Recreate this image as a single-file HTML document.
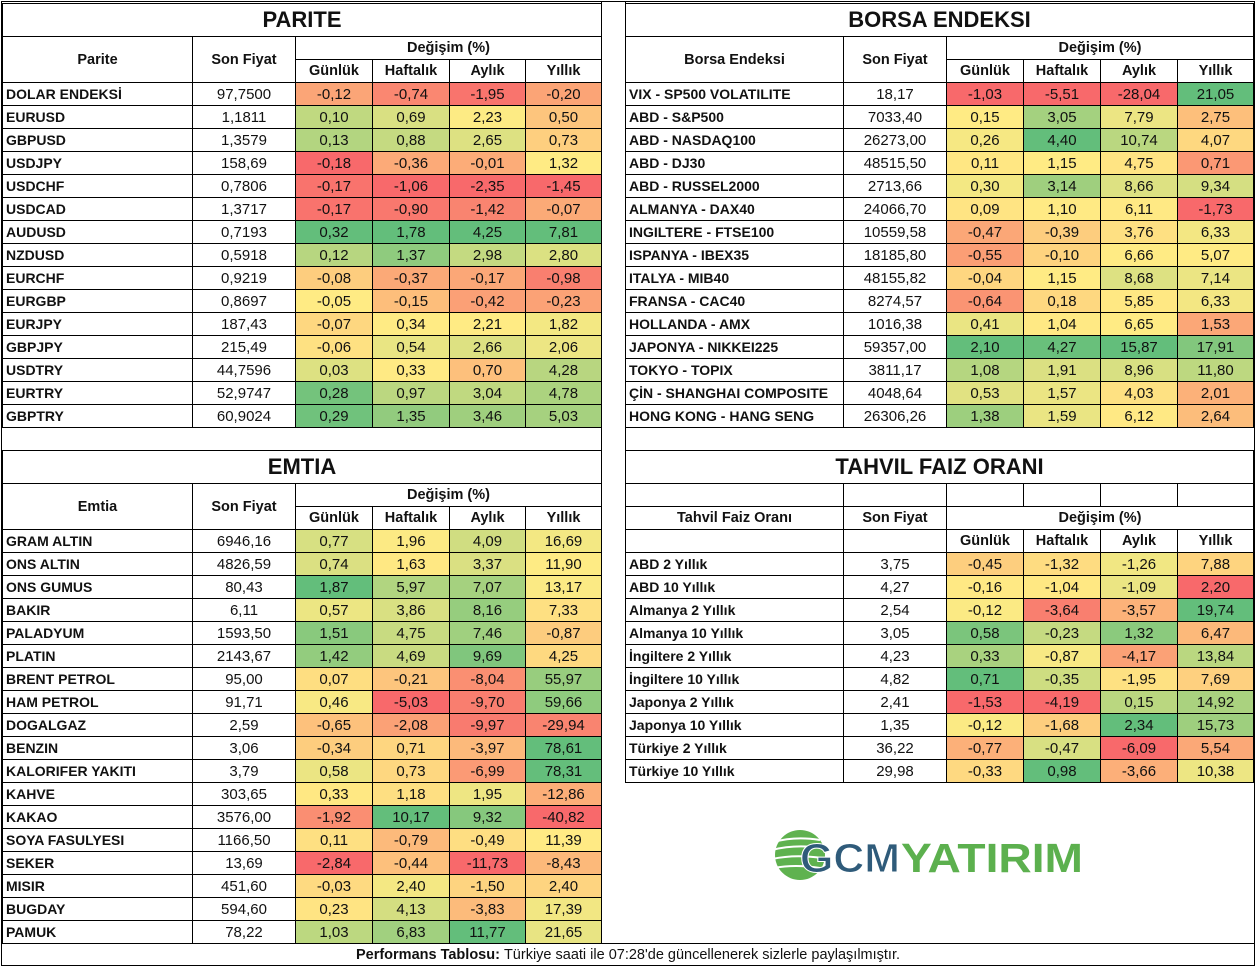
<!DOCTYPE html>
<html><head><meta charset="utf-8">
<style>
html,body{margin:0;padding:0;background:#fff;}
body{width:1256px;height:967px;position:relative;overflow:hidden;font-family:"Liberation Sans",Arial,sans-serif;}
.c{position:absolute;box-sizing:border-box;border:1px solid #000;margin:0;white-space:nowrap;overflow:hidden;font-size:15px;color:#111;display:flex;align-items:center;justify-content:center;}
.n{justify-content:flex-start;padding-left:3px;font-weight:bold;font-size:14px;}
.h{font-weight:bold;font-size:14.5px;}
.t{font-weight:bold;font-size:22px;}
.l{position:absolute;background:#000;}
</style></head><body>
<div id="root"></div>
<div class="l" style="left:1px;top:1px;width:1254px;height:1px"></div>
<div class="l" style="left:1px;top:965px;width:1254px;height:1px"></div>
<div class="l" style="left:1px;top:1px;width:1px;height:965px"></div>
<div class="l" style="left:1254px;top:1px;width:1px;height:965px"></div>
<div class="l" style="left:601px;top:1px;width:1px;height:943px"></div>
<div class="l" style="left:625px;top:1px;width:1px;height:782px"></div>

<svg style="position:absolute;left:770px;top:828px" width="320" height="60" viewBox="0 0 320 60">
  <circle cx="30" cy="27" r="25" fill="#5FB24F"/>
  <path d="M4 14 Q25 8 50 12 M2 22 Q25 16 52 20 M2 31 Q25 26 52 30 M4 40 Q25 36 50 40" stroke="#fff" stroke-width="2" fill="none"/>
  <text x="30" y="44" font-family="Liberation Sans,Arial,sans-serif" font-weight="bold" font-size="41" fill="#2F5B7A" stroke="#fff" stroke-width="1" textLength="100" lengthAdjust="spacingAndGlyphs">GCM</text>
  <text x="131" y="44" font-family="Liberation Sans,Arial,sans-serif" font-weight="bold" font-size="41" fill="#5CB04E" textLength="182" lengthAdjust="spacingAndGlyphs">YATIRIM</text>
</svg>

<script>
var R=document.getElementById('root');
function cell(x,y,w,h,txt,cls,bg){var d=document.createElement('div');d.className='c '+(cls||'');d.style.left=x+'px';d.style.top=y+'px';d.style.width=(w+1)+'px';d.style.height=(h+1)+'px';if(bg)d.style.background=bg;d.textContent=txt||'';R.appendChild(d);}
function lerp(a,b,t){return [0,1,2].map(function(i){return Math.round(a[i]+(b[i]-a[i])*t);});}
var RED=[248,105,107],YEL=[255,235,132],GRN=[99,190,123];
function colors(vals){var s=vals.slice().sort(function(a,b){return a-b;});var n=s.length;var p=(n-1)*0.5;var lo=Math.floor(p),hi=Math.ceil(p);var med=s[lo]+(s[hi]-s[lo])*(p-lo);var mn=s[0],mx=s[n-1];
return vals.map(function(v){var c;if(v<=med){c=lerp(RED,YEL,med===mn?1:(v-mn)/(med-mn));}else{c=lerp(YEL,GRN,mx===med?1:(v-med)/(mx-med));}return 'rgb('+c.join(',')+')';});}
function num(s){return parseFloat(s.replace(',','.'));}
function table(cols,y0,rows){var cc=[[],[],[],[]];rows.forEach(function(r){for(var k=0;k<4;k++)cc[k].push(num(r[k+2]));});var cl=cc.map(colors);
rows.forEach(function(r,i){var y=y0+i*23;cell(cols[0],y,cols[1]-cols[0],23,r[0],'n');cell(cols[1],y,cols[2]-cols[1],23,r[1]);for(var k=0;k<4;k++)cell(cols[k+2],y,cols[k+3]-cols[k+2],23,r[k+2],'',cl[k][i]);});}
function header(cols,y,title,name){cell(cols[0],y,cols[6]-cols[0],33,title,'t');cell(cols[0],y+33,cols[1]-cols[0],46,name,'h');cell(cols[1],y+33,cols[2]-cols[1],46,'Son Fiyat','h');cell(cols[2],y+33,cols[6]-cols[2],23,'Değişim (%)','h');var s=['Günlük','Haftalık','Aylık','Yıllık'];for(var k=0;k<4;k++)cell(cols[k+2],y+56,cols[k+3]-cols[k+2],23,s[k],'h');}
var L=[2,192,295,372,449,525,601],RC=[625,843,946,1023,1100,1177,1253];
header(L,3,'PARITE','Parite');
table(L,82,[
['DOLAR ENDEKSİ','97,7500','-0,12','-0,74','-1,95','-0,20'],
['EURUSD','1,1811','0,10','0,69','2,23','0,50'],
['GBPUSD','1,3579','0,13','0,88','2,65','0,73'],
['USDJPY','158,69','-0,18','-0,36','-0,01','1,32'],
['USDCHF','0,7806','-0,17','-1,06','-2,35','-1,45'],
['USDCAD','1,3717','-0,17','-0,90','-1,42','-0,07'],
['AUDUSD','0,7193','0,32','1,78','4,25','7,81'],
['NZDUSD','0,5918','0,12','1,37','2,98','2,80'],
['EURCHF','0,9219','-0,08','-0,37','-0,17','-0,98'],
['EURGBP','0,8697','-0,05','-0,15','-0,42','-0,23'],
['EURJPY','187,43','-0,07','0,34','2,21','1,82'],
['GBPJPY','215,49','-0,06','0,54','2,66','2,06'],
['USDTRY','44,7596','0,03','0,33','0,70','4,28'],
['EURTRY','52,9747','0,28','0,97','3,04','4,78'],
['GBPTRY','60,9024','0,29','1,35','3,46','5,03']]);
header(RC,3,'BORSA ENDEKSI','Borsa Endeksi');
table(RC,82,[
['VIX  - SP500 VOLATILITE','18,17','-1,03','-5,51','-28,04','21,05'],
['ABD - S&P500','7033,40','0,15','3,05','7,79','2,75'],
['ABD - NASDAQ100','26273,00','0,26','4,40','10,74','4,07'],
['ABD - DJ30','48515,50','0,11','1,15','4,75','0,71'],
['ABD - RUSSEL2000','2713,66','0,30','3,14','8,66','9,34'],
['ALMANYA - DAX40','24066,70','0,09','1,10','6,11','-1,73'],
['INGILTERE - FTSE100','10559,58','-0,47','-0,39','3,76','6,33'],
['ISPANYA - IBEX35','18185,80','-0,55','-0,10','6,66','5,07'],
['ITALYA - MIB40','48155,82','-0,04','1,15','8,68','7,14'],
['FRANSA - CAC40','8274,57','-0,64','0,18','5,85','6,33'],
['HOLLANDA - AMX','1016,38','0,41','1,04','6,65','1,53'],
['JAPONYA - NIKKEI225','59357,00','2,10','4,27','15,87','17,91'],
['TOKYO - TOPIX','3811,17','1,08','1,91','8,96','11,80'],
['ÇİN - SHANGHAI COMPOSITE','4048,64','0,53','1,57','4,03','2,01'],
['HONG KONG - HANG SENG','26306,26','1,38','1,59','6,12','2,64']]);
header(L,450,'EMTIA','Emtia');
table(L,529,[
['GRAM ALTIN','6946,16','0,77','1,96','4,09','16,69'],
['ONS ALTIN','4826,59','0,74','1,63','3,37','11,90'],
['ONS GUMUS','80,43','1,87','5,97','7,07','13,17'],
['BAKIR','6,11','0,57','3,86','8,16','7,33'],
['PALADYUM','1593,50','1,51','4,75','7,46','-0,87'],
['PLATIN','2143,67','1,42','4,69','9,69','4,25'],
['BRENT PETROL','95,00','0,07','-0,21','-8,04','55,97'],
['HAM PETROL','91,71','0,46','-5,03','-9,70','59,66'],
['DOGALGAZ','2,59','-0,65','-2,08','-9,97','-29,94'],
['BENZIN','3,06','-0,34','0,71','-3,97','78,61'],
['KALORIFER YAKITI','3,79','0,58','0,73','-6,99','78,31'],
['KAHVE','303,65','0,33','1,18','1,95','-12,86'],
['KAKAO','3576,00','-1,92','10,17','9,32','-40,82'],
['SOYA FASULYESI','1166,50','0,11','-0,79','-0,49','11,39'],
['SEKER','13,69','-2,84','-0,44','-11,73','-8,43'],
['MISIR','451,60','-0,03','2,40','-1,50','2,40'],
['BUGDAY','594,60','0,23','4,13','-3,83','17,39'],
['PAMUK','78,22','1,03','6,83','11,77','21,65']]);
cell(RC[0],450,RC[6]-RC[0],33,'TAHVIL FAIZ ORANI','t');
for(var k=0;k<6;k++)cell(RC[k],483,RC[k+1]-RC[k],23,'');
cell(RC[0],506,RC[1]-RC[0],23,'Tahvil Faiz Oranı','h');
cell(RC[1],506,RC[2]-RC[1],23,'Son Fiyat','h');
cell(RC[2],506,RC[6]-RC[2],23,'Değişim (%)','h');
cell(RC[0],529,RC[1]-RC[0],23,'');cell(RC[1],529,RC[2]-RC[1],23,'');
var S=['Günlük','Haftalık','Aylık','Yıllık'];for(var k=0;k<4;k++)cell(RC[k+2],529,RC[k+3]-RC[k+2],23,S[k],'h');
table(RC,552,[
['ABD 2 Yıllık','3,75','-0,45','-1,32','-1,26','7,88'],
['ABD 10 Yıllık','4,27','-0,16','-1,04','-1,09','2,20'],
['Almanya 2 Yıllık','2,54','-0,12','-3,64','-3,57','19,74'],
['Almanya 10 Yıllık','3,05','0,58','-0,23','1,32','6,47'],
['İngiltere 2 Yıllık','4,23','0,33','-0,87','-4,17','13,84'],
['İngiltere 10 Yıllık','4,82','0,71','-0,35','-1,95','7,69'],
['Japonya 2 Yıllık','2,41','-1,53','-4,19','0,15','14,92'],
['Japonya 10 Yıllık','1,35','-0,12','-1,68','2,34','15,73'],
['Türkiye 2 Yıllık','36,22','-0,77','-0,47','-6,09','5,54'],
['Türkiye 10 Yıllık','29,98','-0,33','0,98','-3,66','10,38']]);
var f=document.createElement('div');f.className='c';f.style.cssText='left:1px;top:943px;width:1254px;height:23px;font-size:14.5px;';f.innerHTML='<b>Performans Tablosu:</b>&nbsp;Türkiye saati ile 07:28\'de güncellenerek sizlerle paylaşılmıştır.';R.appendChild(f);
</script>
</body></html>
